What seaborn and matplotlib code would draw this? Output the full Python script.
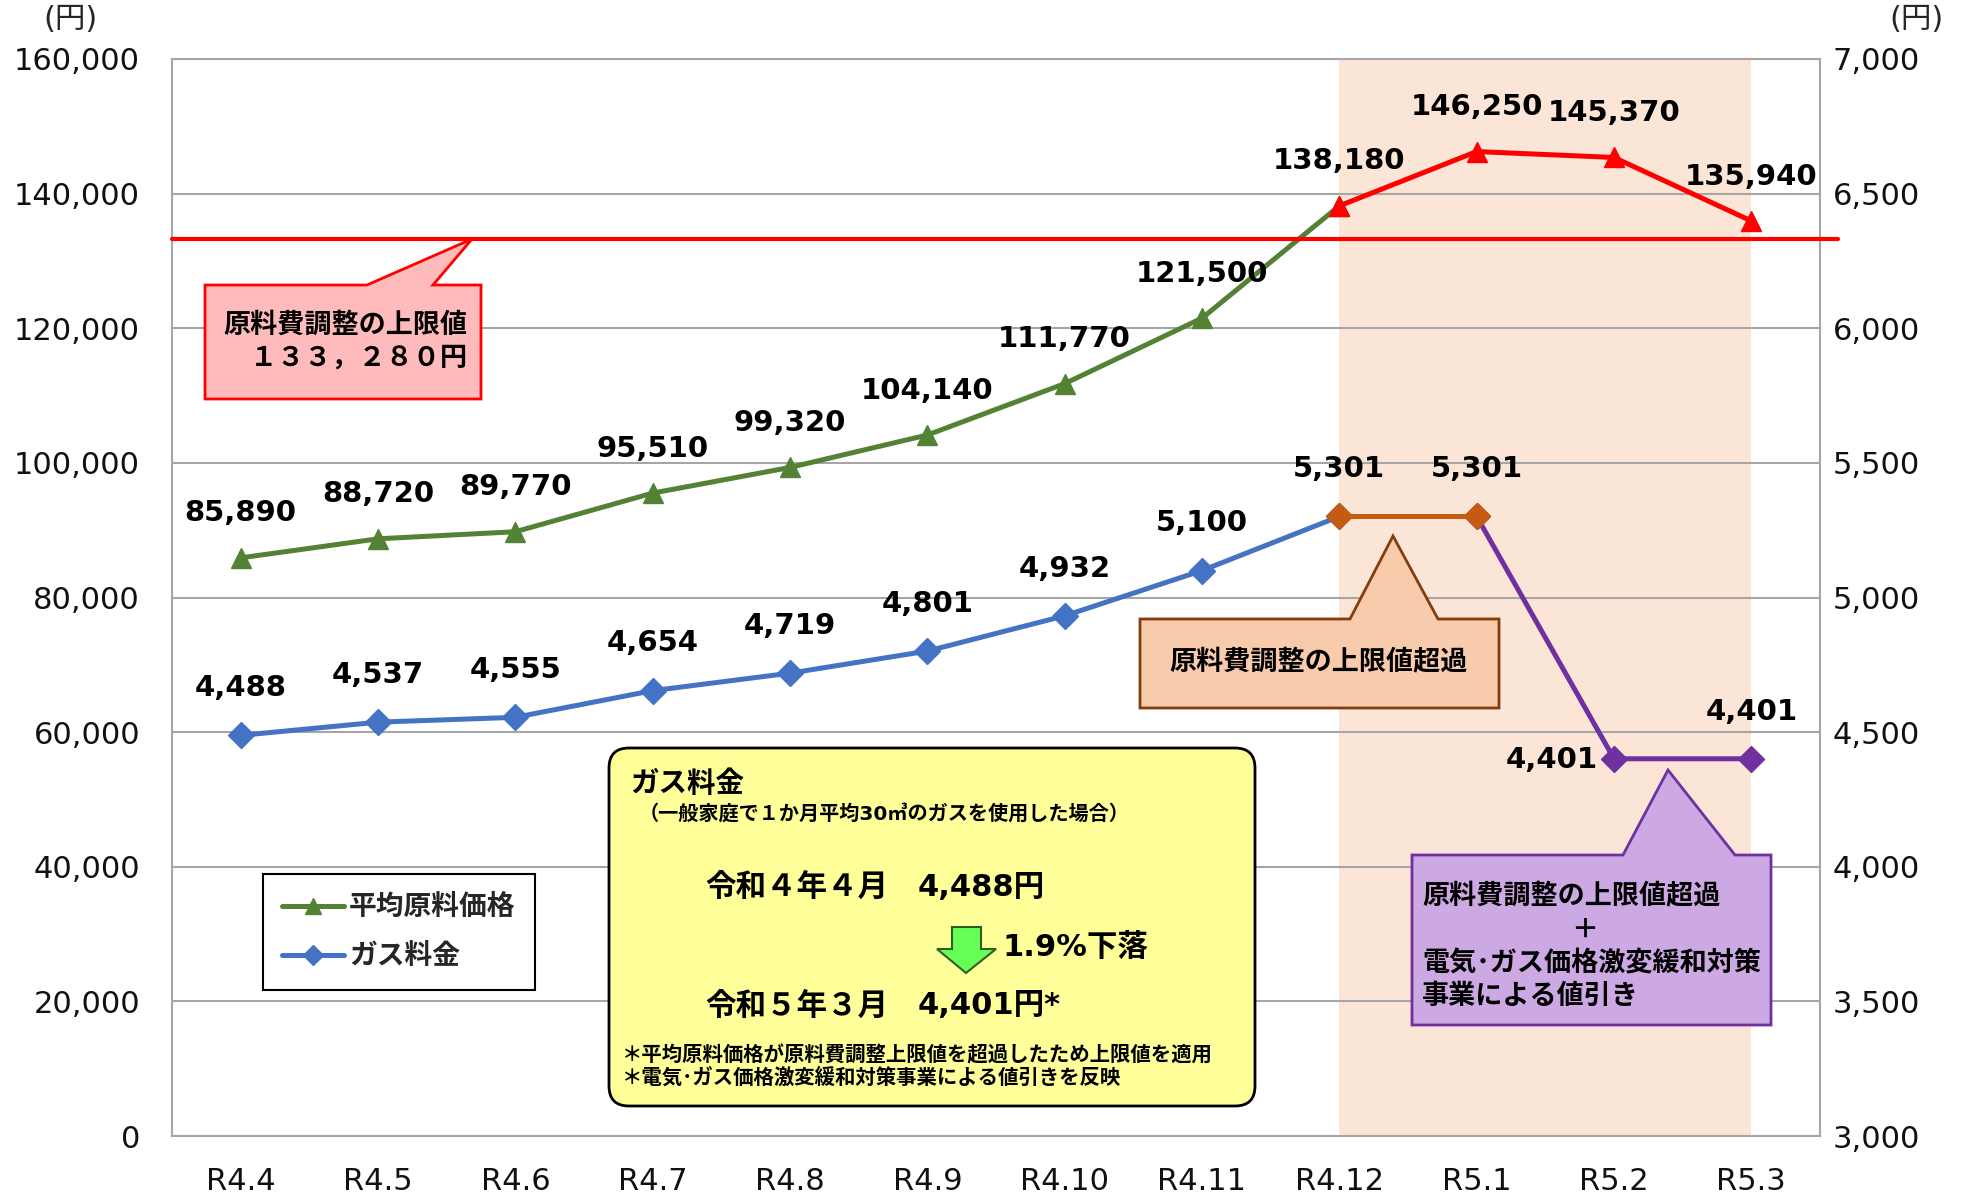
import matplotlib
matplotlib.use("Agg")
import matplotlib.pyplot as plt
import seaborn as sns
import pandas as pd
from matplotlib.patches import Polygon, FancyBboxPatch
from matplotlib.lines import Line2D
from matplotlib.transforms import Affine2D
from matplotlib.ticker import FuncFormatter

# Values.
months = ["R4.4", "R4.5", "R4.6", "R4.7", "R4.8", "R4.9",
          "R4.10", "R4.11", "R4.12", "R5.1", "R5.2", "R5.3"]
material_price = [85890, 88720, 89770, 95510, 99320, 104140,
                  111770, 121500, 138180, 146250, 145370, 135940]
gas_rate = [4488, 4537, 4555, 4654, 4719, 4801,
            4932, 5100, 5301, 5301, 4401, 4401]
price_cap = 133280
cap_start = 8      # R4.12: cap exceeded from here on
relief_start = 9   # R5.1: relief discount applied after this month

GREEN = "#548235"
RED = "#FF0000"
BLUE = "#4472C4"
ORANGE = "#C55A11"
PURPLE = "#7030A0"
GRID = "#A6A6A6"

sns.set_theme(style="white")
plt.rcParams["font.family"] = ["DejaVu Sans", "Noto Sans CJK JP"]

W, H = 1964, 1198
fig = plt.figure(figsize=(W / 100, H / 100), dpi=100)
L, R, T, B = 172, 1820, 59, 1136
ax = fig.add_axes([L / W, 1 - B / H, (R - L) / W, (B - T) / H])
ax2 = ax.twinx()

# top-left pixel coordinates, for the callouts and boxes
pix = Affine2D().scale(1, -1).translate(0, H)

df = pd.DataFrame({"i": range(len(months)), "month": months,
                   "material": material_price, "gas": gas_rate})


def seg(axis, rows, col, color, marker, ms):
    sns.lineplot(data=df.iloc[rows], x="i", y=col, ax=axis, color=color,
                 marker=marker, markersize=ms, markeredgecolor=color,
                 markeredgewidth=1, linewidth=3.6, legend=False)


# shaded months where the cap applies
ax.axvspan(cap_start, len(months) - 1, color="#FBE5D6", lw=0, zorder=0)

# average raw material price (left axis)
seg(ax, slice(0, cap_start + 1), "material", GREEN, "^", 14)
seg(ax, slice(cap_start, None), "material", RED, "^", 14)
ax.axhline(price_cap, xmin=0, xmax=1.011, color=RED, lw=3,
           clip_on=False, zorder=3)

# gas rate (right axis)
seg(ax2, slice(0, cap_start + 1), "gas", BLUE, "D", 13)
seg(ax2, slice(relief_start, None), "gas", PURPLE, "D", 13)
seg(ax2, slice(cap_start, relief_start + 1), "gas", ORANGE, "D", 13)

for i, v in enumerate(material_price):
    ax.annotate(f"{v:,}", (i, v), xytext=(0, 32), textcoords="offset points",
                ha="center", va="center", fontsize=21, fontweight="bold",
                color="black")
for i, v in enumerate(gas_rate):
    if i == 10:
        off, ha = (-12, -1), "right"
    else:
        off, ha = (0, 34), "center"
    ax2.annotate(f"{v:,}", (i, v), xytext=off, textcoords="offset points",
                 ha=ha, va="center", fontsize=21, fontweight="bold",
                 color="black")

# axes
fmt = FuncFormatter(lambda v, p: f"{v:,.0f}")
ax.set_xlim(-0.5, len(months) - 0.5)
ax.set_xticks(range(len(months)), months)
ax.set_ylim(0, 160000)
ax.set_yticks(range(0, 160001, 20000))
ax2.set_ylim(3000, 7000)
ax2.set_yticks(range(3000, 7001, 500))
ax.yaxis.set_major_formatter(fmt)
ax2.yaxis.set_major_formatter(fmt)
ax.tick_params(axis="y", length=0, pad=23, labelsize=22, labelcolor="#111111")
ax.tick_params(axis="x", length=0, pad=22, labelsize=22, labelcolor="#111111")
ax2.tick_params(axis="y", length=0, pad=9, labelsize=22, labelcolor="#111111")
ax.set_xlabel("")
ax.set_ylabel("")
ax2.set_ylabel("")
ax.grid(axis="y", color=GRID, linewidth=1.5)
ax.set_axisbelow(True)
for s in ax.spines.values():
    s.set_color(GRID)
    s.set_linewidth(1.5)
for s in ax2.spines.values():
    s.set_visible(False)

fig.text(71, 19, "(円)", transform=pix, fontsize=22, ha="center", va="center")
fig.text(1916, 19, "(円)", transform=pix, fontsize=22, ha="center", va="center")


def callout(points, face, edge):
    fig.add_artist(Polygon(points, closed=True, transform=pix,
                           facecolor=face, edgecolor=edge, lw=2))


def note(x, y, s, size, ha="left", **kw):
    fig.text(x, y, s, transform=pix, fontsize=size, fontweight="bold",
             ha=ha, va="center", color="black", **kw)


# price cap callout
callout([(205, 285), (367, 285), (472, 239), (433, 285), (481, 285),
         (481, 399), (205, 399)], "#FFBBBB", RED)
note(223, 326, "原料費調整の上限値", 19.5)
note(223, 359, "　１３３，２８０円", 19.5)

# cap exceeded callout
callout([(1140, 619), (1350, 619), (1393, 536), (1438, 619), (1499, 619),
         (1499, 708), (1140, 708)], "#F8CBAD", "#843C0C")
note(1319, 663, "原料費調整の上限値超過", 19.5, ha="center")

# cap + relief callout
callout([(1412, 855), (1623, 855), (1668, 770), (1735, 855), (1771, 855),
         (1771, 1025), (1412, 1025)], "#CCA9E3", PURPLE)
note(1422, 897, "原料費調整の上限値超過", 19.5)
note(1585, 931, "＋", 19.5, ha="center")
note(1422, 964, "電気･ガス価格激変緩和対策", 19.5)
note(1422, 997, "事業による値引き", 19.5)

# summary box
fig.add_artist(FancyBboxPatch((609, 748), 646, 358,
                              boxstyle="round,pad=0,rounding_size=20",
                              transform=pix, facecolor="#FFFF99",
                              edgecolor="black", lw=2))
note(630, 784, "ガス料金", 20.5)
note(639, 814, "（一般家庭で１か月平均30㎥のガスを使用した場合）", 14.5)
note(705, 887, "令和４年４月", 22)
note(918, 887, "4,488円", 22)
fig.add_artist(Polygon([(952, 927), (981, 927), (981, 949), (996, 949),
                        (966, 973), (937, 949), (952, 949)], closed=True,
                       transform=pix, facecolor="#66FF55",
                       edgecolor="#2F5F1F", lw=1.5))
note(1002, 947, "1.9%下落", 22)
note(705, 1006, "令和５年３月", 22)
note(918, 1006, "4,401円*", 22)
note(622, 1055, "＊平均原料価格が原料費調整上限値を超過したため上限値を適用", 14.7)
note(622, 1078, "＊電気･ガス価格激変緩和対策事業による値引きを反映", 14.7)

# legend
handles = [Line2D([], [], color=GREEN, marker="^", ms=12, lw=3.6),
           Line2D([], [], color=BLUE, marker="D", ms=10, lw=3.6)]
leg = ax2.legend(handles, ["平均原料価格", "ガス料金"], loc="upper left",
                 bbox_to_anchor=((263 - L) / (R - L), (B - 874) / (B - T)),
                 borderaxespad=0, frameon=True, fancybox=False,
                 edgecolor="black", framealpha=1,
                 prop={"size": 20, "weight": "bold"},
                 handlelength=2.2, handletextpad=0.2, labelspacing=0.75,
                 borderpad=0.7)
leg.get_frame().set_linewidth(1.5)

fig.savefig("out.png", dpi=100)
